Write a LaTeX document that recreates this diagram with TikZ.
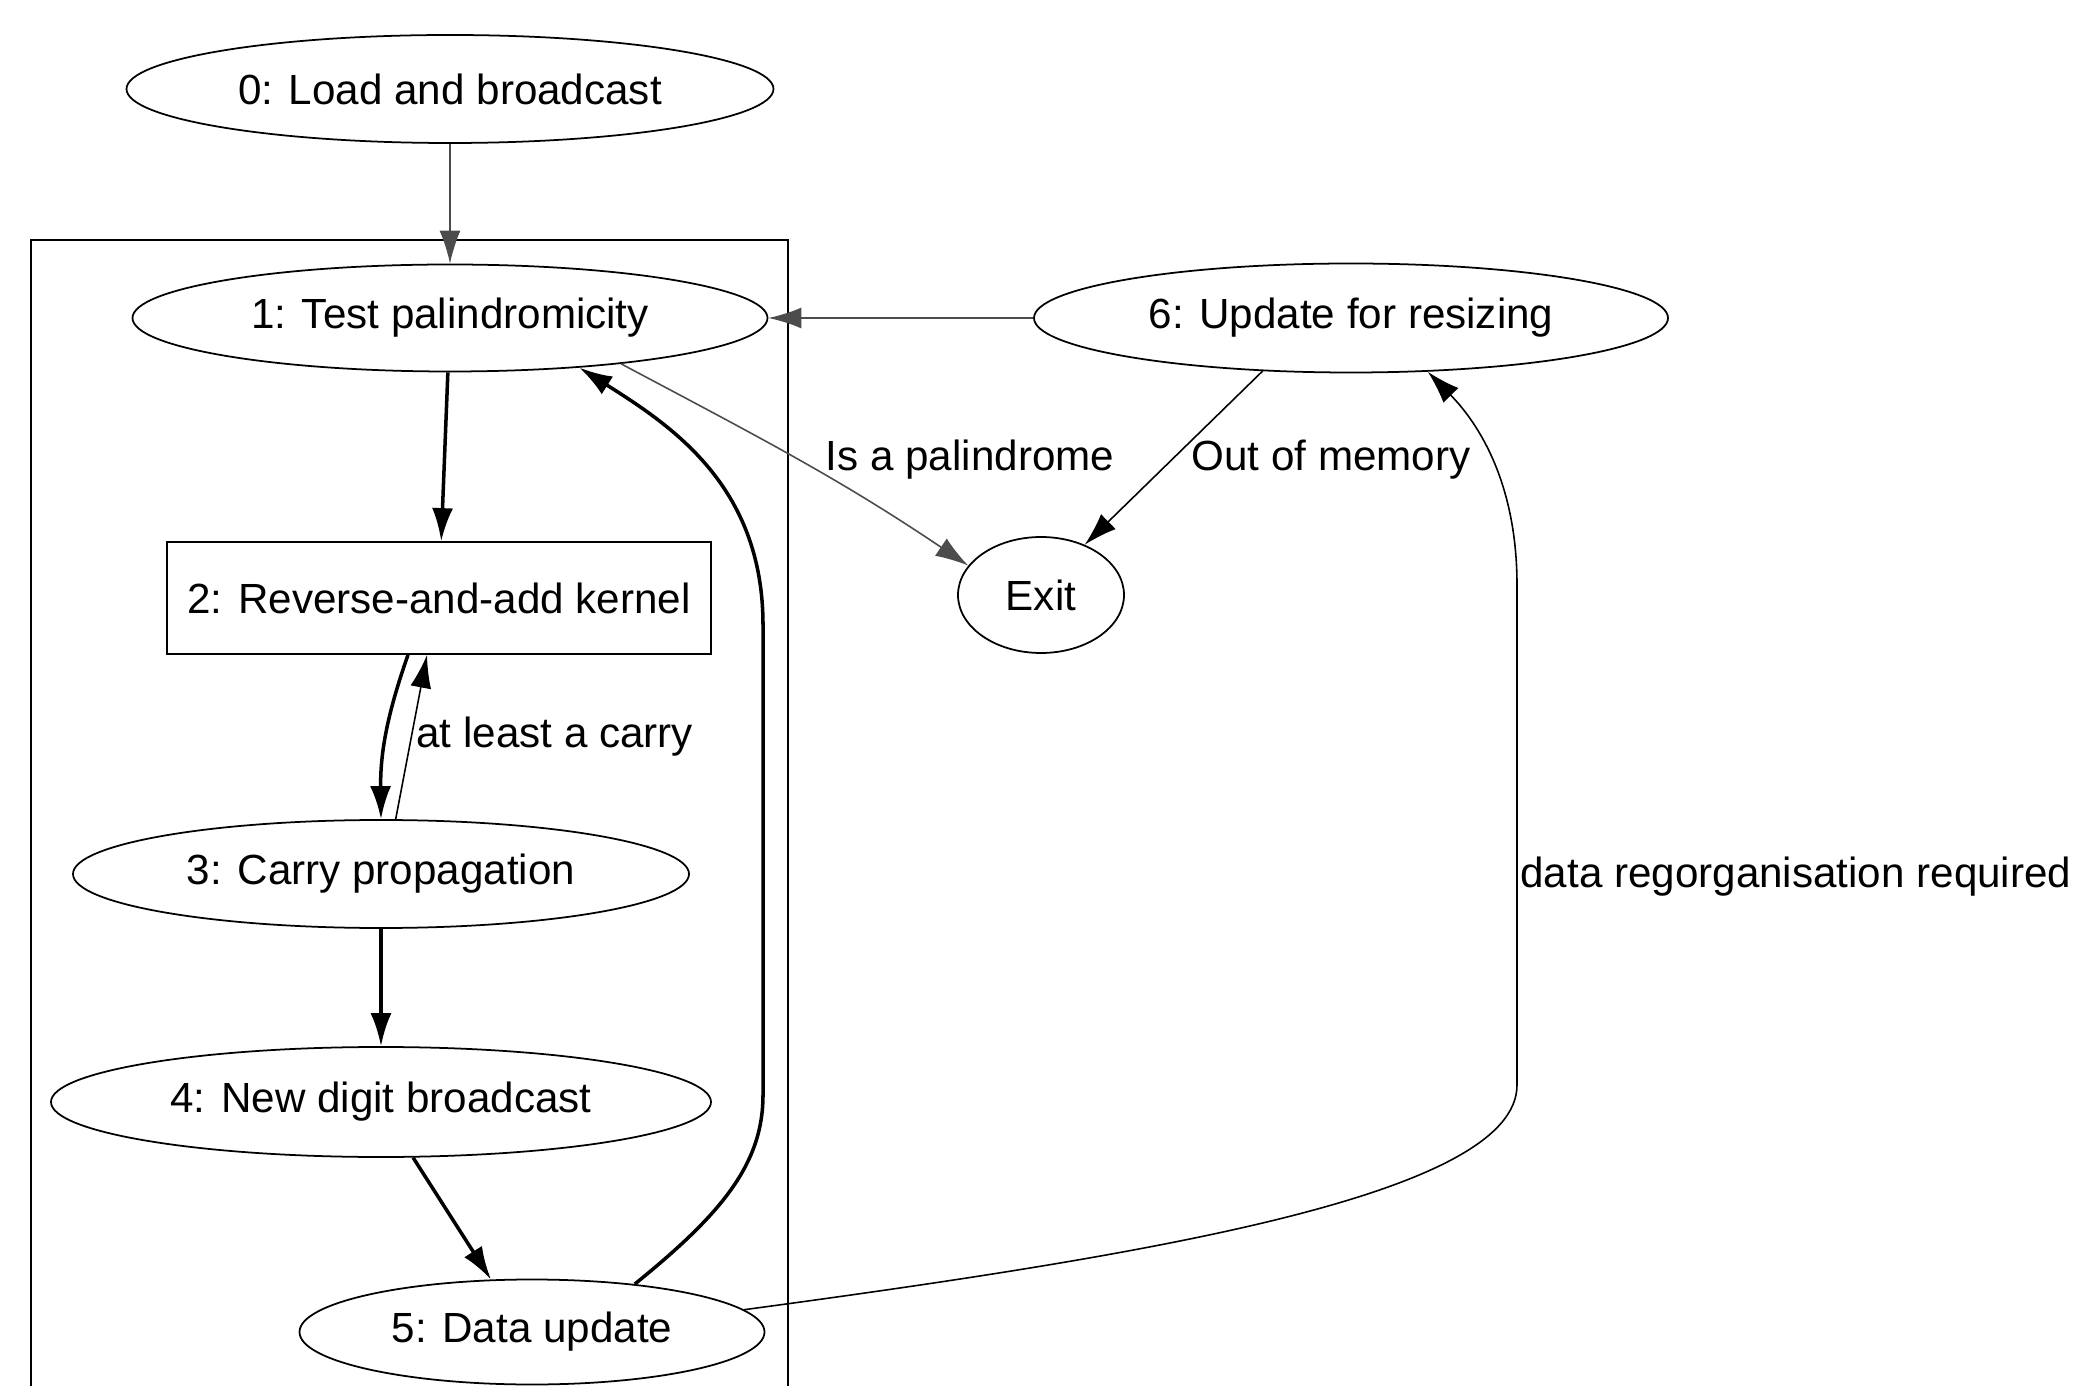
\documentclass[tikz,border=0pt]{standalone}
\usepackage{fontspec}
\setmainfont{Liberation Sans}
\usetikzlibrary{shapes.geometric, arrows.meta, positioning}

\begin{document}
\begin{tikzpicture}[>={Latex[length=3.3mm, width=2.1mm]},
    font=\fontsize{12}{14}\selectfont,
    stage/.style={draw, ellipse, line width=0.5pt, inner sep=0pt},
    kernelbox/.style={draw, rectangle, line width=0.5pt, minimum width=5.44cm, minimum height=1.12cm},
    lightedge/.style={->, line width=0.45pt},
    boldedge/.style={->, line width=1pt}]
    % Khung hình
    \useasboundingbox (0,0) rectangle (20.87,13.85);
    \clip (0,0) rectangle (20.87,13.85);
    \draw[line width=0.5pt] (0.31,-0.5) rectangle (7.88,11.45);

    % Các nút
    \node[stage, minimum width=6.47cm, minimum height=1.08cm] (load) at (4.50,12.96) {0: Load and broadcast};
    \node[stage, minimum width=6.35cm, minimum height=1.07cm] (test) at (4.50,10.67) {1: Test palindromicity};
    \node[kernelbox] (kernel) at (4.39,7.87) {2: Reverse-and-add kernel};
    \node[stage, minimum width=6.16cm, minimum height=1.08cm] (carry) at (3.81,5.11) {3: Carry propagation};
    \node[stage, minimum width=6.60cm, minimum height=1.10cm] (digit) at (3.81,2.83) {4: New digit broadcast};
    \node[stage, minimum width=4.65cm, minimum height=1.05cm] (update) at (5.32,0.53) {5: Data update};
    \node[stage, minimum width=6.34cm, minimum height=1.09cm] (resize) at (13.51,10.67) {6: Update for resizing};
    \node[stage, minimum width=1.66cm, minimum height=1.16cm] (exit) at (10.41,7.90) {Exit};

    % Nhãn
    \node (lblcarry) [anchor=west] at (4.04,6.48) {at least a carry};
    \node (lblpal) at (9.70,9.25) {Is a palindrome};
    \node (lblmem) at (13.31,9.25) {Out of memory};
    \node (lblreorg) [anchor=west] at (15.08,5.08) {data regorganisation required};

    % Các cạnh
    \draw[lightedge, draw=black!70] (load) -- (test);
    \draw[boldedge] (test) -- (kernel);
    \draw[boldedge] ([xshift=-0.31cm]kernel.south) to[bend right=10] (carry.north);
    \draw[lightedge] (carry.75) -- ([xshift=-0.12cm]kernel.south);
    \draw[boldedge] (carry) -- (digit);
    \draw[boldedge] (digit.-60) -- (update.128);
    \draw[boldedge] (update.25) .. controls (7.2,1.7) and (7.63,2.2) .. (7.63,2.9)
        -- (7.63,7.6) .. controls (7.63,9.0) and (6.7,9.6) .. (test.-21);
    \draw[lightedge, draw=black!70] (test.-15) to[out=-28, in=146] (exit.158);
    \draw[lightedge] (resize.211) -- (exit.49);
    \draw[lightedge, draw=black!70] (resize) -- (test);
    \draw[lightedge] (update.6) .. controls (11.5,1.3) and (15.17,1.9) .. (15.17,3.0)
        -- (15.17,8.0) .. controls (15.17,9.0) and (14.8,9.6) .. (resize.-35);
\end{tikzpicture}
\end{document}
